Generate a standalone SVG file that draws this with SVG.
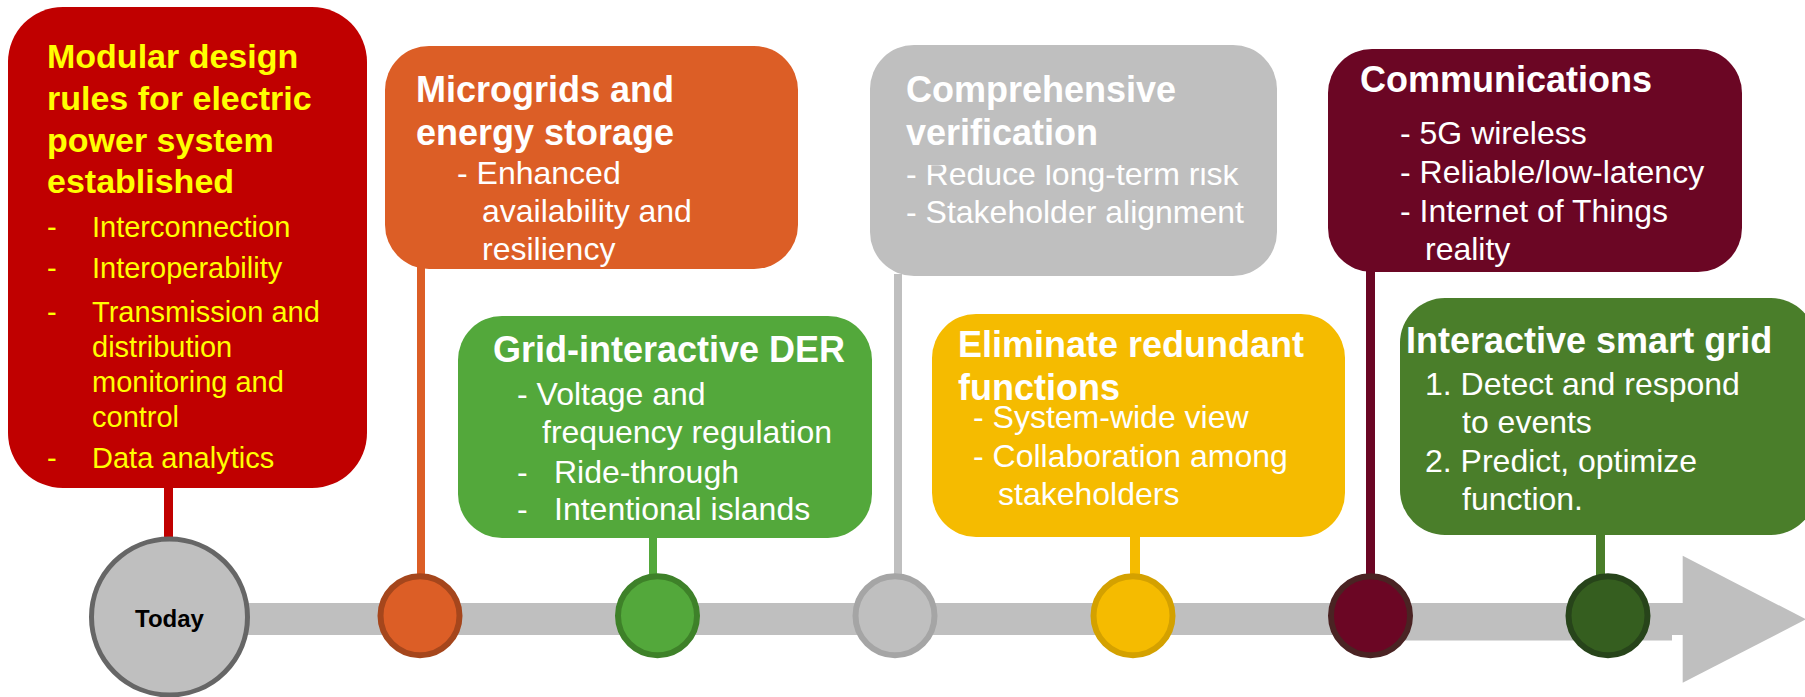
<svg xmlns="http://www.w3.org/2000/svg" width="1805" height="697" viewBox="0 0 1805 697">
  <defs>
    <style>
      text { font-family: "Liberation Sans", Arial, sans-serif; }
      .title { font-size: 36px; font-weight: bold; fill: #FFFFFF; }
      .item { font-size: 32px; fill: #FFFFFF; }
      .rtitle { font-size: 34px; font-weight: bold; fill: #FFFF00; }
      .ritem { font-size: 29px; fill: #FFFF00; }
      .stem { stroke-linecap: butt; fill: none; }
      .dot { stroke-width: 6; }
    </style>
    <!-- top line of the first verification bullet is cut by the title block -->
    <clipPath id="clipRisk">
      <rect x="880" y="165" width="400" height="40"/>
    </clipPath>
  </defs>

  <rect width="1805" height="697" fill="#FFFFFF"/>

  <!-- timeline shaft and arrow head -->
  <g id="timeline" fill="#BFBFBF">
    <rect x="200" y="603" width="1490" height="32"/>
    <rect x="1371" y="634" width="301" height="6.5"/>
    <polygon points="1682.7,555.7 1806,619.3 1682.7,682.7"/>
  </g>

  <!-- stems from each box down to its timeline dot -->
  <g id="connectors" class="stem">
    <line x1="168.5" y1="486" x2="168.5" y2="540" stroke="#C00000" stroke-width="9"/>
    <line x1="421" y1="267" x2="421" y2="576" stroke="#DC5E26" stroke-width="8"/>
    <line x1="653" y1="536" x2="653" y2="576" stroke="#53A83B" stroke-width="8"/>
    <line x1="898" y1="274" x2="898" y2="576" stroke="#BFBFBF" stroke-width="8"/>
    <line x1="1135" y1="535" x2="1135" y2="576" stroke="#F5BB00" stroke-width="10"/>
    <line x1="1370.5" y1="270" x2="1370.5" y2="576" stroke="#6B0624" stroke-width="9"/>
    <line x1="1600.5" y1="533" x2="1600.5" y2="576" stroke="#4A7E2A" stroke-width="9"/>
  </g>

  <g id="today">
    <rect x="8" y="7" width="359" height="481" rx="55" ry="55" fill="#C00000"/>
    <text class="rtitle" x="47" y="68">Modular design</text>
    <text class="rtitle" x="47" y="110">rules for electric</text>
    <text class="rtitle" x="47" y="152">power system</text>
    <text class="rtitle" x="47" y="193">established</text>
    <text class="ritem" x="47" y="237">-</text>
    <text class="ritem" x="92" y="237">Interconnection</text>
    <text class="ritem" x="47" y="278">-</text>
    <text class="ritem" x="92" y="278">Interoperability</text>
    <text class="ritem" x="47" y="322">-</text>
    <text class="ritem" x="92" y="322">Transmission and</text>
    <text class="ritem" x="92" y="357">distribution</text>
    <text class="ritem" x="92" y="392">monitoring and</text>
    <text class="ritem" x="92" y="427">control</text>
    <text class="ritem" x="47" y="468">-</text>
    <text class="ritem" x="92" y="468">Data analytics</text>
    <circle cx="169.5" cy="617" r="78" fill="#BFBFBF" stroke="#666666" stroke-width="5"/>
    <text x="169.5" y="627" text-anchor="middle" font-size="24" font-weight="bold" fill="#000000">Today</text>
  </g>

  <g id="microgrids">
    <rect x="385" y="46" width="413" height="223" rx="44" ry="44" fill="#DC5E26"/>
    <text class="title" x="416" y="102">Microgrids and</text>
    <text class="title" x="416" y="145">energy storage</text>
    <text class="item" x="457" y="184">- Enhanced</text>
    <text class="item" x="482" y="222">availability and</text>
    <text class="item" x="482" y="260">resiliency</text>
    <circle class="dot" cx="420" cy="615.7" r="39.5" fill="#DC5E26" stroke="#A5461C"/>
  </g>

  <g id="grid-der">
    <rect x="458" y="316" width="414" height="222" rx="44" ry="44" fill="#53A83B"/>
    <text class="title" x="493" y="362">Grid-interactive DER</text>
    <text class="item" x="517" y="405">- Voltage and</text>
    <text class="item" x="542" y="443">frequency regulation</text>
    <text class="item" x="517" y="483">-</text>
    <text class="item" x="554" y="483">Ride-through</text>
    <text class="item" x="517" y="520">-</text>
    <text class="item" x="554" y="520">Intentional islands</text>
    <circle class="dot" cx="657.5" cy="615.7" r="39.5" fill="#53A83B" stroke="#3E8129"/>
  </g>

  <g id="verification">
    <rect x="870" y="45" width="407" height="231" rx="44" ry="44" fill="#BFBFBF"/>
    <text class="title" x="906" y="102">Comprehensive</text>
    <text class="title" x="906" y="145">verification</text>
    <text class="item" x="906" y="185" clip-path="url(#clipRisk)">- Reduce long-term risk</text>
    <text class="item" x="906" y="223">- Stakeholder alignment</text>
    <circle class="dot" cx="895" cy="615.7" r="39.5" fill="#BFBFBF" stroke="#A5A5A5"/>
  </g>

  <g id="redundant">
    <rect x="932" y="314" width="413" height="223" rx="44" ry="44" fill="#F5BB00"/>
    <text class="title" x="958" y="357">Eliminate redundant</text>
    <text class="title" x="958" y="400">functions</text>
    <text class="item" x="973" y="428">- System-wide view</text>
    <text class="item" x="973" y="467">- Collaboration among</text>
    <text class="item" x="998" y="505">stakeholders</text>
    <circle class="dot" cx="1133" cy="615.7" r="39.5" fill="#F5BB00" stroke="#D4A100"/>
  </g>

  <g id="communications">
    <rect x="1328" y="49" width="414" height="223" rx="44" ry="44" fill="#6B0624"/>
    <text class="title" x="1360" y="92">Communications</text>
    <text class="item" x="1400" y="144">- 5G wireless</text>
    <text class="item" x="1400" y="183">- Reliable/low-latency</text>
    <text class="item" x="1400" y="222">- Internet of Things</text>
    <text class="item" x="1425" y="260">reality</text>
    <circle class="dot" cx="1370.5" cy="615.7" r="39.5" fill="#6B0624" stroke="#4A2323"/>
  </g>

  <g id="smart-grid">
    <rect x="1400" y="298" width="416" height="237" rx="45" ry="45" fill="#4A7E2A"/>
    <text class="title" x="1406" y="353">Interactive smart grid</text>
    <text class="item" x="1425" y="395">1. Detect and respond</text>
    <text class="item" x="1462" y="433">to events</text>
    <text class="item" x="1425" y="472">2. Predict, optimize</text>
    <text class="item" x="1462" y="510">function.</text>
    <circle class="dot" cx="1608" cy="615.7" r="39.5" fill="#355E1F" stroke="#27441A"/>
  </g>
</svg>
